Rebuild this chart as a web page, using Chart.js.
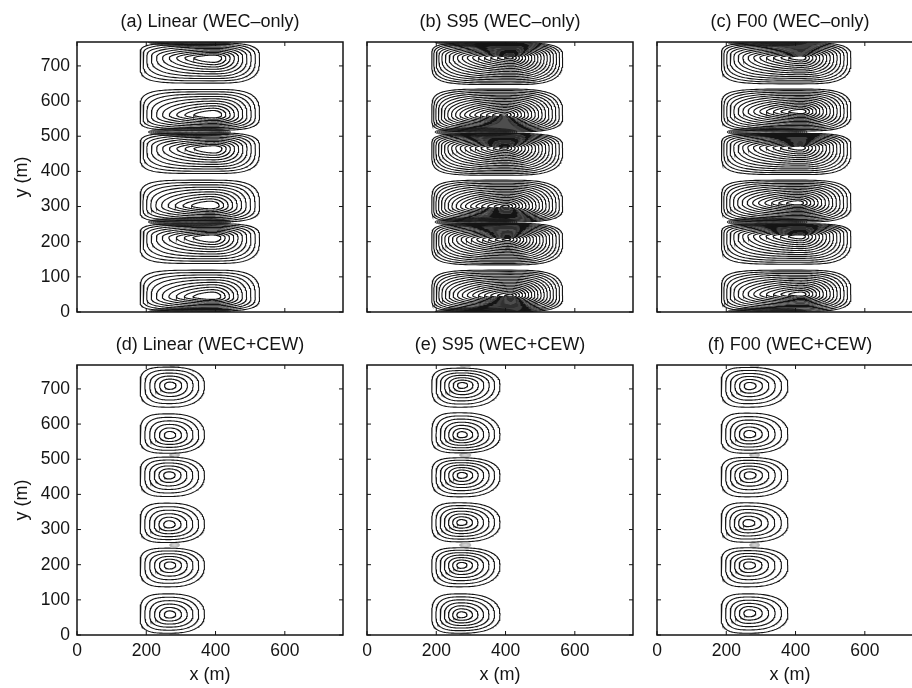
<!DOCTYPE html>
<html>
<head>
<meta charset="utf-8">
<script src="https://cdn.jsdelivr.net/npm/chart.js@4.4.0/dist/chart.umd.min.js"></script>
<style>
html, body { margin: 0; padding: 0; background: #fff; overflow: hidden; }
#fig { position: relative; width: 912px; height: 688px; overflow: hidden; }
#fig canvas { position: absolute; }
</style>
</head>
<body>
<div id="fig"></div>
<script>
// axes
var xTicks = [0, 200, 400, 600];
var yTicks = [0, 100, 200, 300, 400, 500, 600, 700];
var domainMax = 768;

var titles = ['(a) Linear (WEC–only)', '(b) S95 (WEC–only)', '(c) F00 (WEC–only)',
              '(d) Linear (WEC+CEW)', '(e) S95 (WEC+CEW)', '(f) F00 (WEC+CEW)'];

// cells: lower / upper edge of outer contour and position of the maximum (m)
var aLow   = [3, 138, 256, 394, 517, 651];
var aHigh  = [119, 251, 375, 509, 633, 765];
var aPeakY = [43, 212, 302, 465, 560, 723];
var aPeakX = [391, 391, 385, 395, 394, 394];

var bLow   = [1, 134, 256, 389, 512, 647];
var bHigh  = [119, 252, 375, 508, 634, 766];
var bPeakY = [47, 207, 300, 467, 560, 724];
var bPeakX = [415, 407, 403, 400, 398, 415];

var cLow   = [2, 136, 256, 391, 515, 649];
var cHigh  = [119, 251, 375, 508, 634, 766];
var cPeakY = [50, 216, 310, 468, 570, 724];
var cPeakX = [416, 414, 408, 414, 416, 416];

var dLow   = [5, 137, 263, 394, 517, 648];
var dHigh  = [117, 247, 375, 506, 629, 762];
var dPeakY = [58, 199, 314, 455, 568, 710];
var dPeakX = [267, 267, 265, 265, 267, 268];

var eLow   = [5, 137, 265, 393, 518, 648];
var eHigh  = [117, 248, 376, 504, 632, 759];
var ePeakY = [57, 199, 320, 455, 569, 711];
var ePeakX = [272, 272, 272, 273, 273, 274];

var fLow   = [5, 137, 264, 393, 517, 648];
var fHigh  = [117, 248, 376, 505, 631, 761];
var fPeakY = [62, 199, 318, 455, 571, 709];
var fPeakX = [265, 264, 262, 266, 265, 266];

// across-shore extent of the cells (m) and number of contour levels
var cellLeft  = [182, 187, 186, 182, 187, 185];
var cellRight = [527, 565, 560, 368, 384, 378];
var nLevels   = [10, 17, 14, 6, 7, 6];
var innerLevel = [0.18, 0.05, 0.1, 0.18, 0.15, 0.18];

// convergence lines where contours pile up
var bandY = [0, 256, 512, 768];
var bandX = [325, 315, 318, 282, 284, 282];
var bandHalf = [118, 118, 115, 14, 16, 14];

var fig = document.getElementById('fig');
var font = 'Liberation Sans, Arial, Helvetica, sans-serif';
var ink = '#141414';

function loop(cx, cy, rL, rR, rB, rT, nL, nR) {
  var pts = [];
  for (var i = 0; i <= 160; i++) {
    var t = i / 160 * 2 * Math.PI;
    var c = Math.cos(t), s = Math.sin(t);
    var e = 2 / (c >= 0 ? nR : nL);
    pts.push({
      x: cx + (c >= 0 ? rR : rL) * Math.sign(c) * Math.pow(Math.abs(c), e),
      y: cy + (s >= 0 ? rT : rB) * Math.sign(s) * Math.pow(Math.abs(s), e)
    });
  }
  return pts;
}

function line(pts, color, w) {
  return { data: pts, showLine: true, pointRadius: 0, borderColor: color, borderWidth: w, fill: false, tension: 0 };
}

function buildSets(p) {
  var sets = [];
  for (var j = 0; j < p.low.length; j++) {
    var xm = p.peakX[j], ym = p.peakY[j];
    for (var k = 0; k < p.levels; k++) {
      var s = p.inner + (1 - p.inner) * k / (p.levels - 1);
      var reach = p.top ? s * (1.6 - 0.6 * s) : s;
      var nL = p.top ? 1.6 + 3.4 * s * s * s : 2 + 1.3 * s * s;
      var nR = p.top ? 2 + 1.3 * s * s : 2 + 0.4 * s;
      sets.push(line(loop(xm, ym, (xm - p.left) * reach, (p.right - xm) * s,
        (ym - p.low[j]) * s, (p.high[j] - ym) * s, nL, nR), ink, 1.1));
    }
  }
  bandY.forEach(function (yb) {
    var n = p.top ? 6 : 3;
    for (var j = 1; j <= n; j++) {
      sets.push(line(loop(p.bandX, yb, p.bandHalf * (0.7 + 0.3 * j / n), p.bandHalf * (0.7 + 0.3 * j / n),
        2 * j, 2 * j, 2, 2), p.top ? '#3a3a3a' : '#b0b0b0', p.top ? 0.9 : 0.8));
    }
  });
  return sets;
}

var boxPlugin = {
  id: 'box',
  afterDatasetsDraw: function (chart) {
    var ctx = chart.ctx, a = chart.chartArea, x = chart.scales.x, y = chart.scales.y;
    ctx.save();
    ctx.strokeStyle = ink;
    ctx.lineWidth = 1;
    ctx.beginPath();
    x.ticks.forEach(function (t) {
      var px = x.getPixelForValue(t.value);
      ctx.moveTo(px, a.bottom); ctx.lineTo(px, a.bottom - 4);
      ctx.moveTo(px, a.top); ctx.lineTo(px, a.top + 4);
    });
    y.ticks.forEach(function (t) {
      var py = y.getPixelForValue(t.value);
      ctx.moveTo(a.left, py); ctx.lineTo(a.left + 4, py);
      ctx.moveTo(a.right, py); ctx.lineTo(a.right - 4, py);
    });
    ctx.stroke();
    ctx.lineWidth = 1.5;
    ctx.strokeRect(a.left, a.top, a.right - a.left, a.bottom - a.top);
    ctx.restore();
  }
};

var lows = [aLow, bLow, cLow, dLow, eLow, fLow];
var highs = [aHigh, bHigh, cHigh, dHigh, eHigh, fHigh];
var peaksY = [aPeakY, bPeakY, cPeakY, dPeakY, ePeakY, fPeakY];
var peaksX = [aPeakX, bPeakX, cPeakX, dPeakX, ePeakX, fPeakX];
var plotLeft = [77, 367, 657];
var plotTop = [42, 365];

for (var i = 0; i < 6; i++) {
  var row = Math.floor(i / 3), col = i % 3;
  var p = {
    top: row === 0, low: lows[i], high: highs[i], peakX: peaksX[i], peakY: peaksY[i],
    left: cellLeft[i], right: cellRight[i], levels: nLevels[i], inner: innerLevel[i],
    bandX: bandX[i], bandHalf: bandHalf[i]
  };
  var cv = document.createElement('canvas');
  cv.width = 420; cv.height = 365;
  cv.style.left = (plotLeft[col] - 77) + 'px';
  cv.style.top = (plotTop[row] - 42) + 'px';
  fig.appendChild(cv);

  new Chart(cv, {
    type: 'scatter',
    data: { datasets: buildSets(p) },
    options: {
      responsive: false,
      animation: false,
      devicePixelRatio: 1,
      events: [],
      layout: { padding: 0 },
      plugins: {
        legend: { display: false },
        tooltip: { enabled: false },
        title: {
          display: true, text: titles[i], color: ink,
          font: { family: font, size: 18, weight: 'normal', lineHeight: 1.2 },
          padding: { top: 11, bottom: 9.4 }
        }
      },
      scales: {
        x: {
          type: 'linear', min: 0, max: domainMax,
          afterBuildTicks: function (s) { s.ticks = xTicks.map(function (v) { return { value: v }; }); },
          afterFit: function (s) { s.height = 53; },
          grid: { display: false, drawTicks: false },
          border: { display: false },
          ticks: { display: row === 1, padding: 6, color: ink, maxRotation: 0, autoSkip: false,
                   font: { family: font, size: 17.5 } },
          title: { display: row === 1, text: 'x (m)', color: ink,
                   font: { family: font, size: 18, lineHeight: 1.2 }, padding: { top: 0, bottom: 2 } }
        },
        y: {
          type: 'linear', min: 0, max: domainMax,
          afterBuildTicks: function (s) { s.ticks = yTicks.map(function (v) { return { value: v }; }); },
          afterFit: function (s) { s.width = 77; },
          grid: { display: false, drawTicks: false },
          border: { display: false },
          ticks: { display: col === 0, padding: 7, color: ink, autoSkip: false,
                   font: { family: font, size: 17.5 } },
          title: { display: col === 0, text: 'y (m)', color: ink,
                   font: { family: font, size: 18, lineHeight: 1.2 }, padding: { top: 11, bottom: 0 } }
        },
        // empty margin on the right so the title sits centred over the plot
        yr: {
          type: 'linear', position: 'right', min: 0, max: domainMax,
          afterFit: function (s) { s.width = 77; },
          grid: { display: false, drawTicks: false },
          border: { display: false },
          ticks: { display: false }
        }
      }
    },
    plugins: [boxPlugin]
  });
}
</script>
</body>
</html>
